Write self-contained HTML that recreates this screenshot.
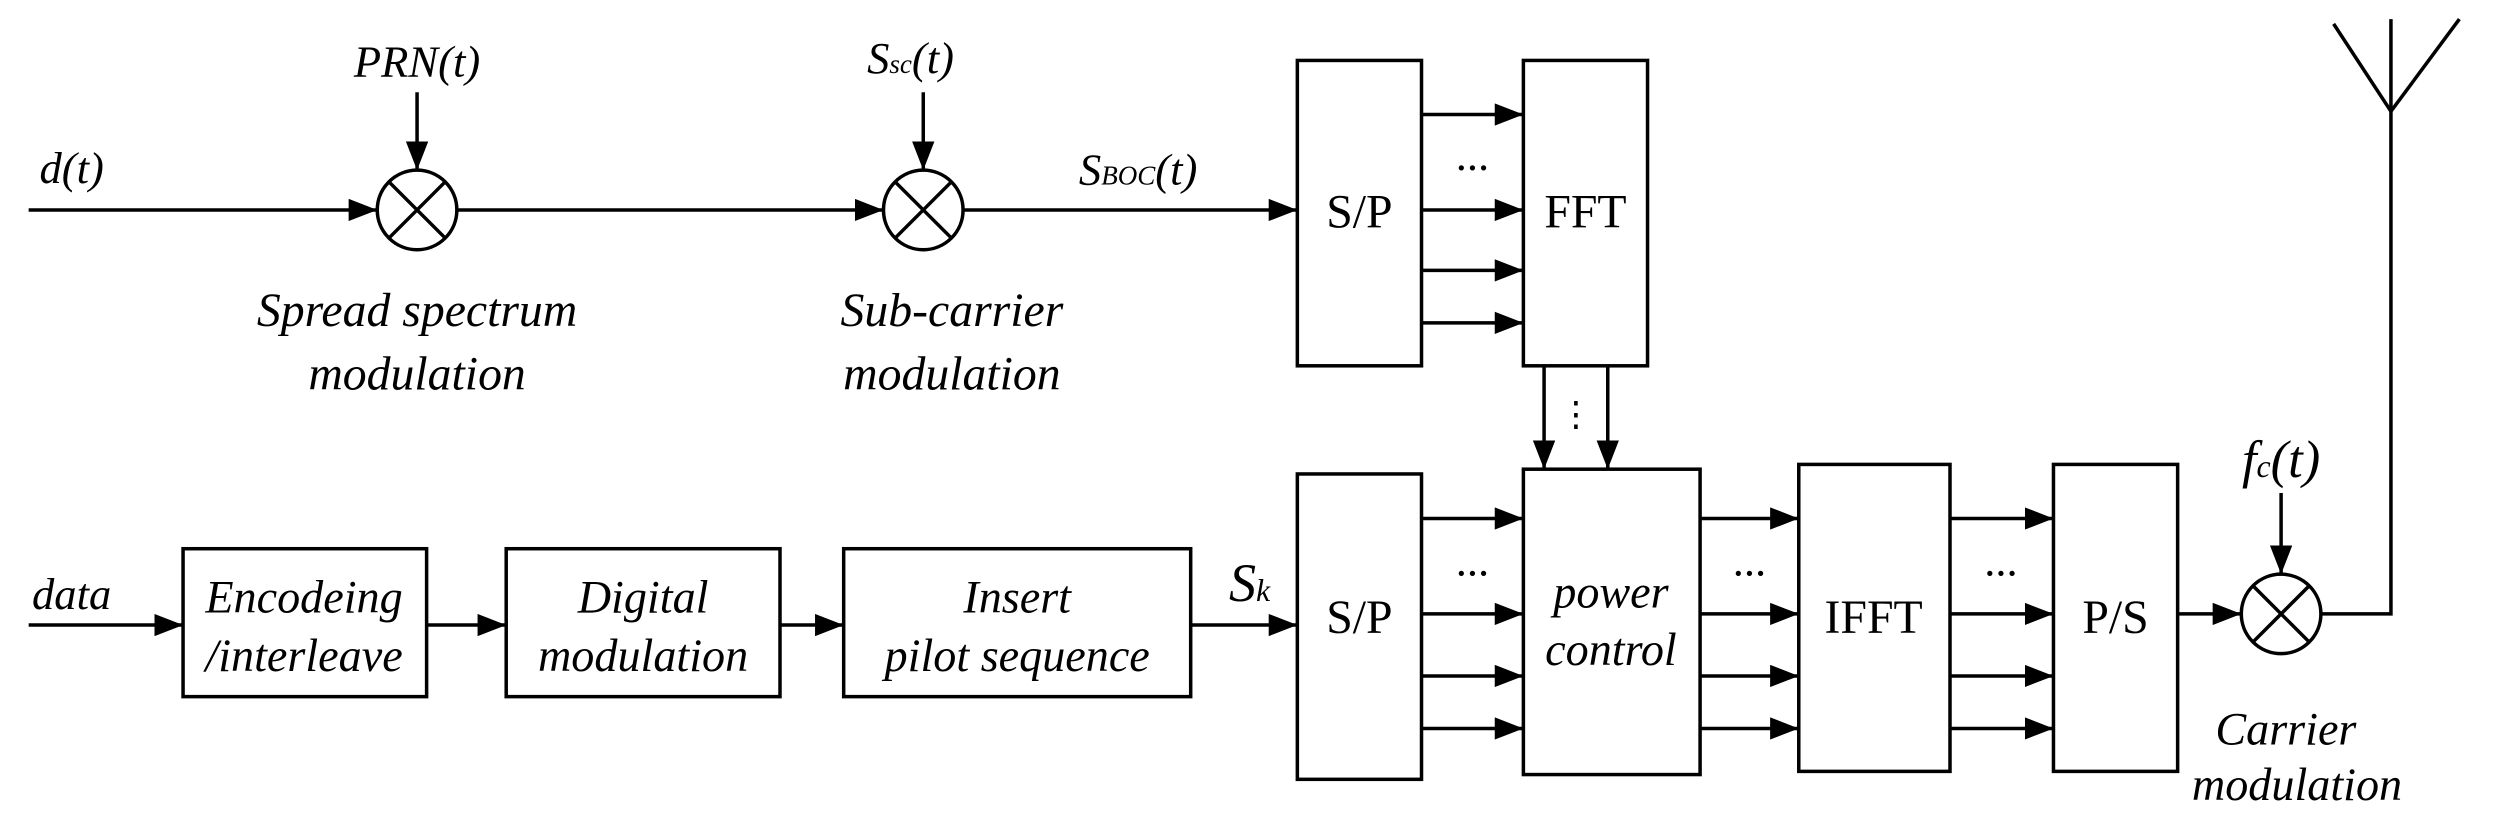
<!DOCTYPE html>
<html><head><meta charset="utf-8"><style>
html,body{margin:0;padding:0;background:#fff;}
svg{display:block;}
text{font-family:"Liberation Serif",serif;fill:#000;}
.i{font-style:italic;}
</style></head><body>
<svg width="2496" height="835" viewBox="0 0 1568 525" preserveAspectRatio="none" xmlns="http://www.w3.org/2000/svg">
<defs>
<marker id="b" markerWidth="18" markerHeight="14" refX="18" refY="7" orient="auto" markerUnits="userSpaceOnUse"><path d="M0,0 L18,7 L0,14 Z" fill="#000"/></marker></defs>
<g stroke="#000" stroke-width="2.2" fill="none">
<line x1="18" y1="132" x2="237" y2="132" marker-end="url(#b)"/>
<circle cx="262" cy="132" r="25"/><line x1="244" y1="114" x2="280" y2="150"/><line x1="280" y1="114" x2="244" y2="150"/>
<line x1="262" y1="58" x2="262" y2="107" marker-end="url(#b)"/>
<line x1="287" y1="132" x2="555" y2="132" marker-end="url(#b)"/>
<circle cx="580" cy="132" r="25"/><line x1="562" y1="114" x2="598" y2="150"/><line x1="598" y1="114" x2="562" y2="150"/>
<line x1="580" y1="58" x2="580" y2="107" marker-end="url(#b)"/>
<line x1="605" y1="132" x2="815" y2="132" marker-end="url(#b)"/>
<rect x="815" y="38" width="78" height="192"/>
<rect x="957" y="38" width="78" height="192"/>
<line x1="893" y1="72" x2="957" y2="72" marker-end="url(#b)"/>
<line x1="893" y1="132" x2="957" y2="132" marker-end="url(#b)"/>
<line x1="893" y1="170" x2="957" y2="170" marker-end="url(#b)"/>
<line x1="893" y1="203" x2="957" y2="203" marker-end="url(#b)"/>
<line x1="970" y1="230" x2="970" y2="295" marker-end="url(#b)"/>
<line x1="1010" y1="230" x2="1010" y2="295" marker-end="url(#b)"/>
<line x1="18" y1="393" x2="115" y2="393" marker-end="url(#b)"/>
<rect x="115" y="345" width="153" height="93"/>
<line x1="268" y1="393" x2="318" y2="393" marker-end="url(#b)"/>
<rect x="318" y="345" width="172" height="93"/>
<line x1="490" y1="393" x2="530" y2="393" marker-end="url(#b)"/>
<rect x="530" y="345" width="218" height="93"/>
<line x1="748" y1="393" x2="815" y2="393" marker-end="url(#b)"/>
<rect x="815" y="298" width="78" height="192"/>
<rect x="957" y="295" width="111" height="192"/>
<rect x="1130" y="292" width="95" height="193"/>
<rect x="1290" y="292" width="78" height="193"/>
<line x1="893" y1="326" x2="957" y2="326" marker-end="url(#b)"/>
<line x1="893" y1="386" x2="957" y2="386" marker-end="url(#b)"/>
<line x1="893" y1="425" x2="957" y2="425" marker-end="url(#b)"/>
<line x1="893" y1="458" x2="957" y2="458" marker-end="url(#b)"/>
<line x1="1068" y1="326" x2="1130" y2="326" marker-end="url(#b)"/>
<line x1="1068" y1="386" x2="1130" y2="386" marker-end="url(#b)"/>
<line x1="1068" y1="425" x2="1130" y2="425" marker-end="url(#b)"/>
<line x1="1068" y1="458" x2="1130" y2="458" marker-end="url(#b)"/>
<line x1="1225" y1="326" x2="1290" y2="326" marker-end="url(#b)"/>
<line x1="1225" y1="386" x2="1290" y2="386" marker-end="url(#b)"/>
<line x1="1225" y1="425" x2="1290" y2="425" marker-end="url(#b)"/>
<line x1="1225" y1="458" x2="1290" y2="458" marker-end="url(#b)"/>
<line x1="1368" y1="386" x2="1408" y2="386" marker-end="url(#b)"/>
<circle cx="1433" cy="386" r="25"/><line x1="1415" y1="368" x2="1451" y2="404"/><line x1="1451" y1="368" x2="1415" y2="404"/>
<line x1="1433" y1="310" x2="1433" y2="361" marker-end="url(#b)"/>
<polyline points="1458,386 1502,386 1502,12"/>
<polyline points="1466,15 1502,70 1545,12"/>
</g>
<g font-size="28" text-anchor="middle">
<text x="262" y="48" class="i">PRN(t)</text>
<text x="572" y="46" class="i">S<tspan font-size="17">sc</tspan>(t)</text>
<text x="45" y="115" class="i">d(t)</text>
<text x="715" y="116" class="i">S<tspan font-size="17">BOC</tspan>(t)</text>
<text x="262" y="205" class="i" font-size="30">Spread spectrum</text>
<text x="262" y="245" class="i" font-size="30">modulation</text>
<text x="598" y="205" class="i" font-size="30">Sub-carrier</text>
<text x="598" y="245" class="i" font-size="30">modulation</text>
<text x="854" y="143" font-size="30">S/P</text>
<text x="996" y="143" font-size="30">FFT</text>
<text x="925" y="107">...</text>
<text x="990" y="268" font-size="22">⋮</text>
<text x="45" y="383" class="i">data</text>
<text x="191" y="385" class="i" font-size="29">Encodeing</text>
<text x="191" y="422" class="i" font-size="29">/interleave</text>
<text x="404" y="385" class="i" font-size="29">Digital</text>
<text x="404" y="422" class="i" font-size="29">modulation</text>
<text x="639" y="385" class="i" font-size="29">Insert</text>
<text x="639" y="422" class="i" font-size="29">pilot sequence</text>
<text x="785" y="378" class="i" font-size="34">S<tspan font-size="20">k</tspan></text>
<text x="854" y="398" font-size="30">S/P</text>
<text x="1012" y="382" class="i" font-size="29">power</text>
<text x="1012" y="418" class="i" font-size="29">control</text>
<text x="1177" y="398" font-size="30">IFFT</text>
<text x="1329" y="398" font-size="30">P/S</text>
<text x="925" y="362">...</text>
<text x="1099" y="362">...</text>
<text x="1257" y="362">...</text>
<text x="1433" y="300" class="i" font-size="33">f<tspan font-size="20">c</tspan>(t)</text>
<text x="1436" y="468" class="i" font-size="29">Carrier</text>
<text x="1443" y="503" class="i" font-size="29">modulation</text>
</g>
</svg>
</body></html>
